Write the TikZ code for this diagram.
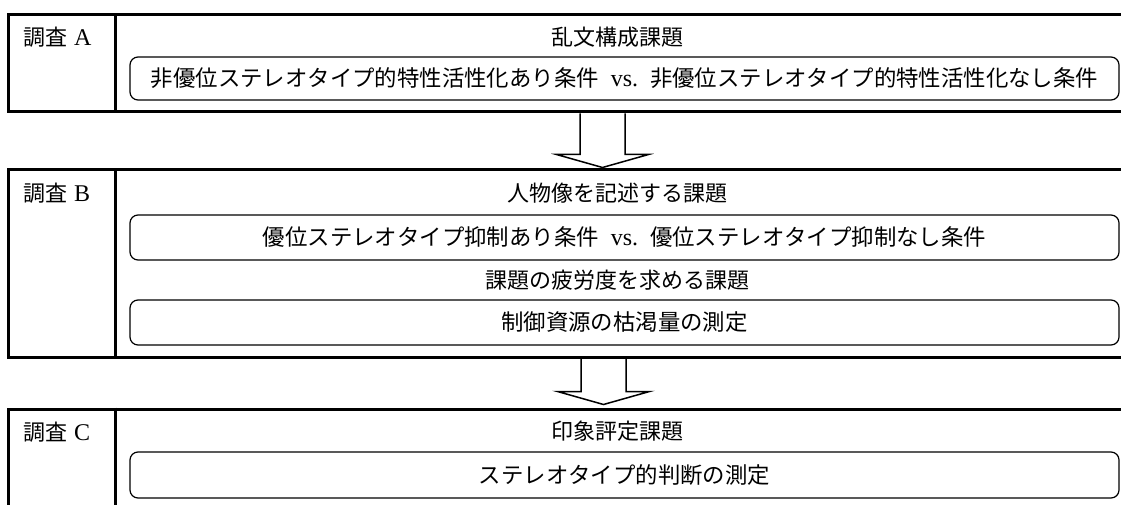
\documentclass[tikz,border=0pt]{standalone}
\usepackage{fontspec}
\setmainfont{Liberation Serif}
\newfontfamily\jp{Noto Sans CJK JP}
\usetikzlibrary{calc}
\newcommand{\lat}[1]{{\fontsize{24}{26}\selectfont #1}}
\begin{document}
\begin{tikzpicture}[x=1pt,y=-1pt,
  frame/.style={draw, line width=3pt, rectangle, inner sep=0pt, minimum width=1130pt},
  subbox/.style={draw, line width=1.2pt, rounded corners=8pt, minimum width=989pt, inner sep=0pt, font=\fontsize{22.4}{26}\selectfont},
  lab/.style={inner sep=0pt, font=\fontsize{22}{26}\selectfont},
  blockarrow/.style={draw, line width=1.5pt, line join=miter}]
\useasboundingbox (0,0) rectangle (1121,505);
\clip (0,0) rectangle (1121,505);
% frames
\node[frame, minimum height=97pt] (frA) at (573,63.5) {};
\node[frame, minimum height=187pt] (frB) at (573,263.5) {};
\node[frame, minimum height=120pt] (frC) at (573,469) {};
% dividers
\draw[line width=3pt] ($(frA.north west)+(109,0)$) coordinate (dA1) -- ($(frA.south west)+(109,0)$) coordinate (dA2);
\draw[line width=3pt] ($(frB.north west)+(109,0)$) coordinate (dB1) -- ($(frB.south west)+(109,0)$) coordinate (dB2);
\draw[line width=3pt] ($(frC.north west)+(109,0)$) coordinate (dC1) -- ($(frC.south west)+(109,0)$) coordinate (dC2);
% labels
\node[lab, anchor=west] (lA) at (23,37) {{\jp 調査}\hspace{7pt}\lat{A}};
\node[lab, anchor=west] (lB) at (23,193) {{\jp 調査}\hspace{7pt}\lat{B}};
\node[lab, anchor=west] (lC) at (23,432) {{\jp 調査}\hspace{7pt}\lat{C}};
% section A
\node[lab] (hA) at (617,37) {\jp 乱文構成課題};
\node[subbox, minimum height=43pt] (sA) at (624.5,78.5) {{\jp 非優位ステレオタイプ的特性活性化あり条件}\hspace{12pt}\lat{vs.}\hspace{12pt}{\jp 非優位ステレオタイプ的特性活性化なし条件}};
% section B
\node[lab] (hB1) at (617,193) {\jp 人物像を記述する課題};
\node[subbox, minimum height=45pt] (sB1) at (624.5,237.5) {{\jp 優位ステレオタイプ抑制あり条件}\hspace{12pt}\lat{vs.}\hspace{12pt}{\jp 優位ステレオタイプ抑制なし条件}};
\node[lab] (hB2) at (617,280) {\jp 課題の疲労度を求める課題};
\node[subbox, minimum height=45pt] (sB2) at (624.5,322.5) {\jp 制御資源の枯渇量の測定};
% section C
\node[lab] (hC) at (617,431) {\jp 印象評定課題};
\node[subbox, minimum height=46pt] (sC) at (624.5,475) {\jp ステレオタイプ的判断の測定};
% arrows
\coordinate (a1) at ($(frA.south west)+(596,0)$);
\coordinate (a2) at ($(frB.south west)+(597,0)$);
\draw[blockarrow] ($(a1)+(-22.5,0)$) -- ++(0,41) -- ++(-23.5,0) -- ($(a1)+(0,54)$) -- ($(a1)+(46,41)$) -- ++(-23.5,0) -- ($(a1)+(22.5,0)$);
\draw[blockarrow] ($(a2)+(-22.5,0)$) -- ++(0,33) -- ++(-23.5,0) -- ($(a2)+(0,46)$) -- ($(a2)+(46,33)$) -- ++(-23.5,0) -- ($(a2)+(22.5,0)$);
\end{tikzpicture}
\end{document}
